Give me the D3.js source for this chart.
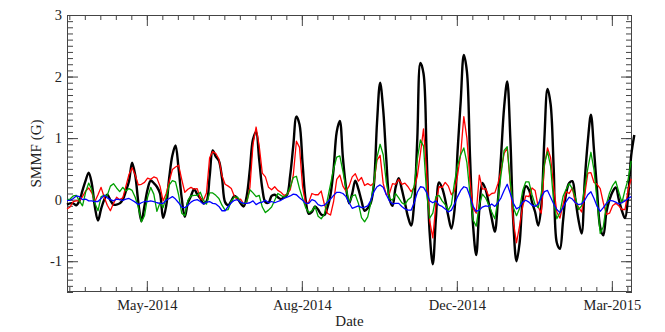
<!DOCTYPE html>
<html><head><meta charset="utf-8">
<script src="https://cdn.jsdelivr.net/npm/d3@7"></script>
<style>
body{margin:0;background:#fff}
svg{display:block}
text{font-family:"Liberation Serif","Times New Roman",serif;fill:#222}
</style>
</head><body>
<svg id="chart" width="665" height="332"></svg>
<script>
// ---- data (values every 2 days starting at startDate) ----
const startDate = "2014-04-01T00:00:00Z";
const stepDays = 2;
const endDate = "2015-03-31T12:00:00Z";

const blackSeries = [-0.08,-0.06,-0.06,-0.09,-0.02,0.15,0.31,0.44,0.26,-0.12,-0.34,-0.15,0.0,0.08,-0.01,-0.08,-0.08,-0.06,0.0,0.14,0.3,0.6,0.4,-0.04,-0.35,-0.1,0.17,0.31,0.27,0.21,0.1,-0.3,-0.1,0.37,0.72,0.88,0.5,0.03,-0.28,-0.05,0.06,0.17,0.09,0.02,-0.06,-0.03,0.37,0.8,0.7,0.63,0.35,-0.04,-0.09,-0.02,0.06,0.02,-0.06,-0.11,0.07,0.5,0.98,1.1,0.65,0.18,-0.04,-0.05,0.06,0.08,0.04,0.01,0.04,0.08,0.4,0.88,1.35,1.22,0.58,-0.01,-0.23,-0.2,-0.11,-0.16,-0.24,-0.25,-0.13,0.08,0.5,1.1,1.28,0.68,0.2,-0.06,0.1,0.31,0.17,-0.02,-0.18,-0.14,-0.05,0.25,1.25,1.9,1.46,0.65,0.02,-0.1,0.2,0.35,0.17,-0.05,-0.28,-0.42,-0.05,1.0,2.22,2.05,0.75,-0.55,-1.05,-0.3,0.28,0.19,0.0,-0.27,-0.47,-0.17,0.8,1.6,2.35,2.08,0.7,-0.43,-0.9,-0.16,0.27,0.17,-0.05,-0.3,-0.52,-0.02,0.7,1.5,1.92,1.0,-0.4,-1.0,-0.7,0.0,0.22,0.16,-0.04,-0.2,-0.42,-0.1,1.0,1.8,1.55,0.5,-0.7,-0.8,-0.35,0.1,0.27,0.3,0.0,-0.33,-0.55,0.3,0.95,1.38,0.8,0.14,-0.45,-0.58,-0.2,0.0,0.13,0.2,0.0,-0.18,-0.3,0.05,0.72,1.05];

const redSeries = [-0.15,-0.12,-0.03,-0.02,-0.02,0.05,0.14,0.19,0.11,-0.03,0.08,0.2,0.04,-0.09,-0.18,-0.06,0.04,0.0,0.03,0.22,0.41,0.52,0.4,0.24,0.25,0.28,0.35,0.33,0.37,0.35,0.22,-0.02,0.1,0.3,0.49,0.53,0.56,0.33,0.12,0.17,0.2,0.17,0.18,0.02,-0.01,0.11,0.68,0.78,0.75,0.66,0.39,0.25,0.22,0.18,0.05,0.0,0.01,-0.07,-0.05,0.2,0.9,1.18,0.87,0.43,0.37,0.2,0.16,0.21,0.15,0.12,0.07,0.09,0.16,0.4,0.95,0.85,0.2,-0.07,-0.04,0.1,0.08,0.08,0.14,-0.07,-0.22,-0.25,-0.03,0.33,0.4,0.22,0.14,0.22,0.37,0.42,0.3,0.36,0.23,0.26,0.23,0.27,0.64,0.72,0.26,0.08,0.1,0.26,0.25,0.33,0.25,0.27,0.21,0.13,0.2,0.38,0.75,1.15,0.45,-0.35,-0.62,-0.07,0.21,0.2,0.28,0.22,0.08,0.14,0.4,0.75,1.35,1.0,0.3,-0.14,-0.22,0.4,0.17,0.18,0.06,0.1,0.11,0.26,0.47,0.75,0.84,0.25,-0.37,-0.7,-0.42,-0.1,0.06,0.05,0.19,0.15,-0.12,-0.22,0.55,0.84,0.68,0.2,-0.2,-0.3,-0.08,0.13,0.1,0.19,-0.05,-0.12,-0.2,0.08,0.43,0.44,0.28,0.25,0.18,-0.05,-0.24,-0.22,-0.1,-0.06,-0.1,-0.16,-0.16,0.16,0.34];

const greenSeries = [0.0,0.01,0.06,0.07,-0.02,-0.1,0.12,0.27,0.16,-0.06,-0.18,0.05,0.07,0.07,0.22,0.26,0.19,0.13,0.2,0.14,0.18,0.15,0.04,-0.12,-0.36,-0.26,0.04,0.2,0.09,-0.19,-0.05,-0.13,0.04,0.24,0.31,0.29,0.08,-0.22,-0.26,-0.01,0.06,0.07,0.07,0.12,-0.01,-0.07,0.11,0.11,0.07,0.02,-0.09,-0.17,-0.16,-0.02,0.04,0.04,-0.04,-0.07,-0.03,0.16,0.11,0.05,0.07,-0.12,-0.21,-0.17,-0.12,-0.01,0.1,0.07,0.04,0.09,0.2,0.36,0.38,0.18,0.02,-0.13,-0.21,-0.18,-0.11,-0.27,-0.31,-0.24,0.0,0.25,0.5,0.69,0.71,0.46,0.19,-0.05,0.06,0.08,-0.06,-0.29,-0.36,-0.28,-0.05,0.29,0.69,0.9,0.73,0.28,0.02,-0.01,0.1,0.03,-0.05,-0.08,0.0,0.04,0.23,0.66,0.97,0.87,0.1,-0.3,-0.22,0.05,0.07,-0.02,-0.08,-0.17,-0.08,0.28,0.56,0.73,0.84,0.6,0.08,-0.33,-0.43,-0.08,0.09,0.03,-0.08,-0.2,-0.31,-0.01,0.4,0.8,0.86,0.28,-0.13,-0.26,-0.14,0.15,0.29,0.29,0.08,-0.08,-0.13,0.1,0.58,0.78,0.54,-0.05,-0.31,-0.21,0.05,0.17,0.26,0.18,0.03,-0.16,-0.1,0.21,0.51,0.77,0.48,-0.02,-0.55,-0.44,-0.07,0.11,0.23,0.3,0.12,-0.05,0.16,0.33,0.63];

const blueSeries = [-0.01,-0.01,0.02,0.06,0.05,0.0,0.01,-0.02,-0.02,-0.03,-0.03,0.02,0.07,0.03,0.0,-0.02,0.01,0.0,-0.01,0.01,0.02,-0.01,-0.04,-0.08,-0.05,-0.03,-0.03,-0.02,-0.03,-0.05,-0.06,-0.06,-0.01,0.02,0.05,0.01,-0.05,-0.12,-0.13,-0.09,-0.04,-0.01,0.0,-0.03,-0.07,-0.04,-0.03,-0.06,-0.07,-0.11,-0.18,-0.18,-0.11,-0.05,-0.01,0.0,-0.04,-0.06,-0.06,-0.05,-0.02,-0.08,-0.05,-0.04,-0.01,-0.05,-0.03,-0.05,-0.03,-0.01,0.02,0.04,0.06,0.09,0.08,0.03,-0.01,-0.06,-0.06,0.0,-0.02,-0.08,-0.1,-0.09,-0.04,0.01,0.07,0.12,0.12,0.1,0.05,-0.05,-0.14,-0.12,-0.1,-0.13,-0.12,-0.1,-0.01,0.13,0.21,0.24,0.2,0.08,-0.02,-0.07,-0.06,-0.06,-0.11,-0.15,-0.17,-0.17,-0.05,0.12,0.21,0.2,0.12,-0.02,-0.05,-0.02,-0.09,-0.11,-0.15,-0.2,-0.17,-0.07,0.05,0.15,0.21,0.19,0.05,-0.11,-0.19,-0.17,-0.12,-0.1,-0.11,-0.07,-0.11,-0.05,0.03,0.15,0.25,0.1,-0.06,-0.15,-0.12,-0.04,-0.01,-0.04,-0.09,-0.11,-0.07,0.04,0.13,0.15,0.04,-0.07,-0.16,-0.21,-0.13,-0.03,0.04,0.01,-0.05,-0.08,-0.07,-0.01,0.08,0.13,0.02,-0.11,-0.19,-0.13,-0.06,-0.01,-0.02,-0.04,-0.07,-0.05,-0.02,0.02,0.05];

const seriesNames = ["black","red","green","blue"];
const seriesColors = ["#000000","#ff0000","#00a000","#0000ff"];
const seriesWidths = [2.4,1.3,1.3,1.3];

const xMajorTicks = ["2014-05-22T12:00:00Z","2014-08-30T12:00:00Z","2014-12-08T12:00:00Z","2015-03-18T12:00:00Z"];
const xTickLabels = ["May-2014","Aug-2014","Dec-2014","Mar-2015"];
const xMinorStepDays = 10;
const yDomain = [-1.5, 3];
const yMajorTicks = [-1,0,1,2,3];
const yTickLabels = ["-1","0","1","2","3"];
const yMinorStep = 0.1;
const xTitle = "Date";
const yTitle = "SMMF (G)";

// ---- layout ----
const L = 67, R = 632, T = 15, B = 292;
const DAY = 86400000;
const svg = d3.select("#chart");

const t0 = new Date(startDate);
const x = d3.scaleUtc().domain([t0, new Date(endDate)]).range([L, R]);
const y = d3.scaleLinear().domain(yDomain).range([B, T]);

const majorDates = xMajorTicks.map(s => new Date(s));
const minorDates = [];
for (let t = majorDates[0].getTime(); t >= x.domain()[0].getTime(); t -= xMinorStepDays*DAY) minorDates.push(new Date(t));
for (let t = majorDates[0].getTime() + xMinorStepDays*DAY; t <= x.domain()[1].getTime(); t += xMinorStepDays*DAY) minorDates.push(new Date(t));
const yMinor = d3.range(Math.round(yDomain[0]/yMinorStep), Math.round(yDomain[1]/yMinorStep)+1).map(k => +(k*yMinorStep).toFixed(2));

const axisColor = "#444";
function styleAxis(g){
  g.select(".domain").remove();
  g.selectAll(".tick line").attr("stroke", axisColor).attr("stroke-width", 1);
  g.selectAll("text").style("font-size","14.5px").attr("fill","#222");
}
const fmtX = d => xTickLabels[majorDates.findIndex(m => m.getTime() === d.getTime())];
const fmtY = d => yTickLabels[yMajorTicks.indexOf(d)];

// bottom
svg.append("g").attr("transform",`translate(0,${B})`)
  .call(d3.axisBottom(x).tickValues(minorDates).tickSizeInner(-5).tickSizeOuter(0).tickFormat("")).call(styleAxis);
svg.append("g").attr("transform",`translate(0,${B})`)
  .call(d3.axisBottom(x).tickValues(majorDates).tickSizeInner(-11).tickSizeOuter(0).tickPadding(8).tickFormat(fmtX)).call(styleAxis);
// top
svg.append("g").attr("transform",`translate(0,${T})`)
  .call(d3.axisTop(x).tickValues(minorDates).tickSizeInner(-5).tickSizeOuter(0).tickFormat("")).call(styleAxis);
svg.append("g").attr("transform",`translate(0,${T})`)
  .call(d3.axisTop(x).tickValues(majorDates).tickSizeInner(-11).tickSizeOuter(0).tickFormat("")).call(styleAxis);
// left
svg.append("g").attr("transform",`translate(${L},0)`)
  .call(d3.axisLeft(y).tickValues(yMinor).tickSizeInner(-6).tickSizeOuter(0).tickFormat("")).call(styleAxis);
svg.append("g").attr("transform",`translate(${L},0)`)
  .call(d3.axisLeft(y).tickValues(yMajorTicks).tickSizeInner(-11).tickSizeOuter(0).tickPadding(5).tickFormat(fmtY)).call(styleAxis);
// right
svg.append("g").attr("transform",`translate(${R},0)`)
  .call(d3.axisRight(y).tickValues(yMinor).tickSizeInner(-6).tickSizeOuter(0).tickFormat("")).call(styleAxis);
svg.append("g").attr("transform",`translate(${R},0)`)
  .call(d3.axisRight(y).tickValues(yMajorTicks).tickSizeInner(-11).tickSizeOuter(0).tickFormat("")).call(styleAxis);

// frame
svg.append("rect").attr("x",L+0.5).attr("y",T+0.5).attr("width",R-L-1).attr("height",B-T-1)
  .attr("fill","none").attr("stroke",axisColor).attr("stroke-width",1);

// lines
const allSeries = [blackSeries, redSeries, greenSeries, blueSeries];
allSeries.forEach((vals, si) => {
  const pts = vals.map((v,i) => ({d: new Date(t0.getTime() + i*stepDays*DAY), v}));
  const line = d3.line().x(p => x(p.d)).y(p => y(p.v))
    .curve(si === 0 ? d3.curveCatmullRom.alpha(0.5) : d3.curveLinear);
  svg.append("path").datum(pts).attr("class","series-"+seriesNames[si])
    .attr("fill","none").attr("stroke",seriesColors[si]).attr("stroke-width",seriesWidths[si])
    .attr("stroke-linejoin","round").attr("d",line);
});

// titles
svg.append("text").attr("x",(L+R)/2).attr("y",326).attr("text-anchor","middle")
  .style("font-size","15px").text(xTitle);
svg.append("text").attr("transform",`translate(41,${(T+B)/2}) rotate(-90)`).attr("text-anchor","middle")
  .style("font-size","15px").text(yTitle);
</script>
</body></html>
